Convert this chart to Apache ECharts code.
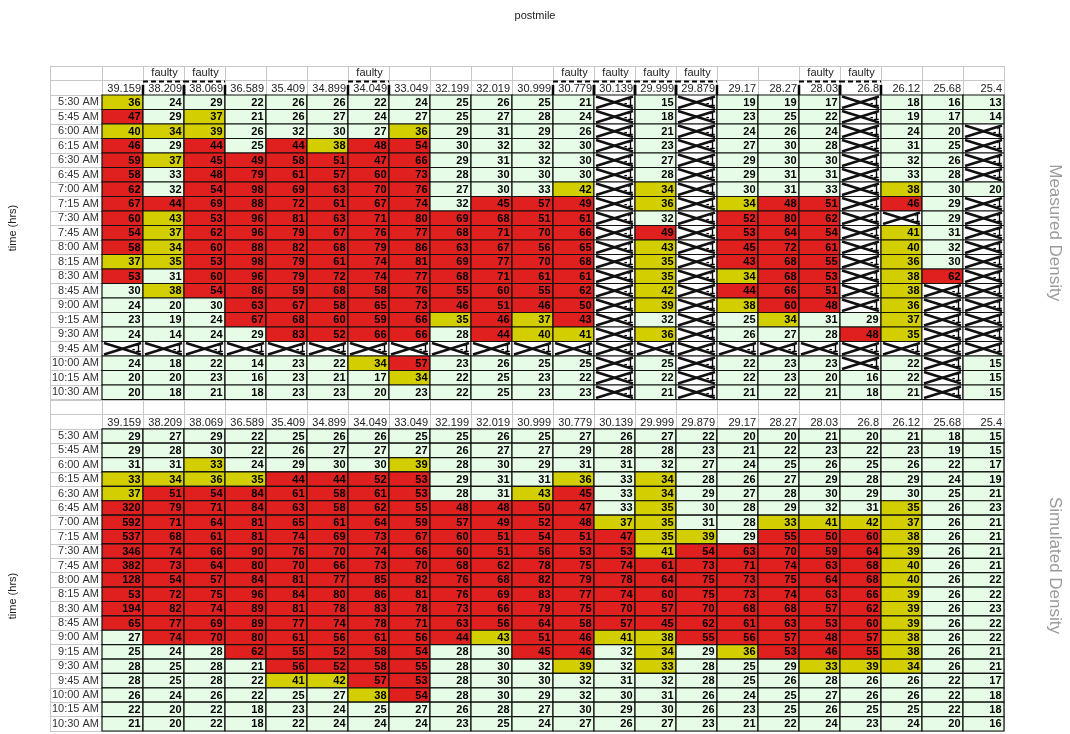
<!DOCTYPE html>
<html>
<head>
<meta charset="utf-8">
<script src="https://cdn.jsdelivr.net/npm/echarts@6/dist/echarts.min.js"></script>
<style>
  html, body { margin: 0; padding: 0; background: #fff; }
  #chart { width: 1070px; height: 734px; }
</style>
</head>
<body>
<div id="chart"></div>
<script>
const postmiles = ['39.159', '38.209', '38.069', '36.589', '35.409', '34.899', '34.049', '33.049', '32.199', '32.019', '30.999',
  '30.779', '30.139', '29.999', '29.879', '29.17', '28.27', '28.03', '26.8', '26.12', '25.68', '25.4'];
const faulty = ['38.209', '38.069', '34.049', '30.779', '30.139', '29.999', '29.879', '28.03', '26.8'];
const times = ['5:30 AM', '5:45 AM', '6:00 AM', '6:15 AM', '6:30 AM', '6:45 AM', '7:00 AM', '7:15 AM', '7:30 AM', '7:45 AM',
  '8:00 AM', '8:15 AM', '8:30 AM', '8:45 AM', '9:00 AM', '9:15 AM', '9:30 AM', '9:45 AM', '10:00 AM', '10:15 AM', '10:30 AM'];

// -1 = no data (crossed cell)
const measured = [
  [36, 24, 29, 22, 26, 26, 22, 24, 25, 26, 25, 21, -1, 15, -1, 19, 19, 17, -1, 18, 16, 13],
  [47, 29, 37, 21, 26, 27, 24, 27, 25, 27, 28, 24, -1, 18, -1, 23, 25, 22, -1, 19, 17, 14],
  [40, 34, 39, 26, 32, 30, 27, 36, 29, 31, 29, 26, -1, 21, -1, 24, 26, 24, -1, 24, 20, -1],
  [46, 29, 44, 25, 44, 38, 48, 54, 30, 32, 32, 30, -1, 23, -1, 27, 30, 28, -1, 31, 25, -1],
  [59, 37, 45, 49, 58, 51, 47, 66, 29, 31, 32, 30, -1, 27, -1, 29, 30, 30, -1, 32, 26, -1],
  [58, 33, 48, 79, 61, 57, 60, 73, 28, 30, 30, 30, -1, 28, -1, 29, 31, 31, -1, 33, 28, -1],
  [62, 32, 54, 98, 69, 63, 70, 76, 27, 30, 33, 42, -1, 34, -1, 30, 31, 33, -1, 38, 30, 20],
  [67, 44, 69, 88, 72, 61, 67, 74, 32, 45, 57, 49, -1, 36, -1, 34, 48, 51, -1, 46, 29, -1],
  [60, 43, 53, 96, 81, 63, 71, 80, 69, 68, 51, 61, -1, 32, -1, 52, 80, 62, -1, -1, 29, -1],
  [54, 37, 62, 96, 79, 67, 76, 77, 68, 71, 70, 66, -1, 49, -1, 53, 64, 54, -1, 41, 31, -1],
  [58, 34, 60, 88, 82, 68, 79, 86, 63, 67, 56, 65, -1, 43, -1, 45, 72, 61, -1, 40, 32, -1],
  [37, 35, 53, 98, 79, 61, 74, 81, 69, 77, 70, 68, -1, 35, -1, 43, 68, 55, -1, 36, 30, -1],
  [53, 31, 60, 96, 79, 72, 74, 77, 68, 71, 61, 61, -1, 35, -1, 34, 68, 53, -1, 38, 62, -1],
  [30, 38, 54, 86, 59, 68, 58, 76, 55, 60, 55, 62, -1, 42, -1, 44, 66, 51, -1, 38, -1, -1],
  [24, 20, 30, 63, 67, 58, 65, 73, 46, 51, 46, 50, -1, 39, -1, 38, 60, 48, -1, 36, -1, -1],
  [23, 19, 24, 67, 68, 60, 59, 66, 35, 46, 37, 43, -1, 32, -1, 25, 34, 31, 29, 37, -1, -1],
  [24, 14, 24, 29, 83, 52, 66, 66, 28, 44, 40, 41, -1, 36, -1, 26, 27, 28, 48, 35, -1, -1],
  [-1, -1, -1, -1, -1, -1, -1, -1, -1, -1, -1, -1, -1, -1, -1, -1, -1, -1, -1, -1, -1, -1],
  [24, 18, 22, 14, 23, 22, 34, 57, 23, 26, 25, 25, -1, 25, -1, 22, 23, 23, -1, 22, -1, 15],
  [20, 20, 23, 16, 23, 21, 17, 34, 22, 25, 23, 22, -1, 22, -1, 22, 23, 20, 16, 22, -1, 15],
  [20, 18, 21, 18, 23, 23, 20, 23, 22, 25, 23, 23, -1, 21, -1, 21, 22, 21, 18, 21, -1, 15]
];
// g = free flow, y = near capacity, r = congested
const measuredLevel = [
  'yggggggggg|gggggggggggg', 'rgyggggggg|gggggggggggg', 'yyyggggygg|gggggggggggg', 'rgrgryrrgg|gggggggggggg',
  'ryrrrrrrgg|gggggggggggg', 'rgrrrrrrgg|gggggggggggg', 'rgrrrrrrgg|gygygggggygg', 'rrrrrrrrgr|rrgygyrrgrgg',
  'ryrrrrrrrr|rrgggrrrgggg', 'ryrrrrrrrr|rrgrgrrrgygg', 'ryrrrrrrrr|rrgygrrrgygg', 'yyrrrrrrrr|rrgygrrrgygg',
  'rgrrrrrrrr|rrgygyrrgyrg', 'gyrrrrrrrr|rrgygrrrgygg', 'gggrrrrrrr|rrgygyrrgygg', 'gggrrrrryr|yrggggyggygg',
  'ggggrrrrgr|yygyggggrygg', 'gggggggggg|gggggggggggg', 'ggggggyrgg|gggggggggggg', 'gggggggygg|gggggggggggg',
  'gggggggggg|gggggggggggg'
];

const simulated = [
  [29, 27, 29, 22, 25, 26, 26, 25, 25, 26, 25, 27, 26, 27, 22, 20, 20, 21, 20, 21, 18, 15],
  [29, 28, 30, 22, 26, 27, 27, 27, 26, 27, 27, 29, 28, 28, 23, 21, 22, 23, 22, 23, 19, 15],
  [31, 31, 33, 24, 29, 30, 30, 39, 28, 30, 29, 31, 31, 32, 27, 24, 25, 26, 25, 26, 22, 17],
  [33, 34, 36, 35, 44, 44, 52, 53, 29, 31, 31, 36, 33, 34, 28, 26, 27, 29, 28, 29, 24, 19],
  [37, 51, 54, 84, 61, 58, 61, 53, 28, 31, 43, 45, 33, 34, 29, 27, 28, 30, 29, 30, 25, 21],
  [320, 79, 71, 84, 63, 58, 62, 55, 48, 48, 50, 47, 33, 35, 30, 28, 29, 32, 31, 35, 26, 23],
  [592, 71, 64, 81, 65, 61, 64, 59, 57, 49, 52, 48, 37, 35, 31, 28, 33, 41, 42, 37, 26, 21],
  [537, 68, 61, 81, 74, 69, 73, 67, 60, 51, 54, 51, 47, 35, 39, 29, 55, 50, 60, 38, 26, 21],
  [346, 74, 66, 90, 76, 70, 74, 66, 60, 51, 56, 53, 53, 41, 54, 63, 70, 59, 64, 39, 26, 21],
  [382, 73, 64, 80, 70, 66, 73, 70, 68, 62, 78, 75, 74, 61, 73, 71, 74, 63, 68, 40, 26, 21],
  [128, 54, 57, 84, 81, 77, 85, 82, 76, 68, 82, 79, 78, 64, 75, 73, 75, 64, 68, 40, 26, 22],
  [53, 72, 75, 96, 84, 80, 86, 81, 76, 69, 83, 77, 74, 60, 75, 73, 74, 63, 66, 39, 26, 22],
  [194, 82, 74, 89, 81, 78, 83, 78, 73, 66, 79, 75, 70, 57, 70, 68, 68, 57, 62, 39, 26, 23],
  [65, 77, 69, 89, 77, 74, 78, 71, 63, 56, 64, 58, 57, 45, 62, 61, 63, 53, 60, 39, 26, 22],
  [27, 74, 70, 80, 61, 56, 61, 56, 44, 43, 51, 46, 41, 38, 55, 56, 57, 48, 57, 38, 26, 22],
  [25, 24, 28, 62, 55, 52, 58, 54, 28, 30, 45, 46, 32, 34, 29, 36, 53, 46, 55, 38, 26, 21],
  [28, 25, 28, 21, 56, 52, 58, 55, 28, 30, 32, 39, 32, 33, 28, 25, 29, 33, 39, 34, 26, 21],
  [28, 25, 28, 22, 41, 42, 57, 53, 28, 30, 30, 32, 31, 32, 28, 25, 26, 28, 26, 26, 22, 17],
  [26, 24, 26, 22, 25, 27, 38, 54, 28, 30, 29, 32, 30, 31, 26, 24, 25, 27, 26, 26, 22, 18],
  [22, 20, 22, 18, 23, 24, 25, 27, 26, 28, 27, 30, 29, 30, 26, 23, 25, 26, 25, 25, 22, 18],
  [21, 20, 22, 18, 22, 24, 24, 24, 23, 25, 24, 27, 26, 27, 23, 21, 22, 24, 23, 24, 20, 16]
];
const simulatedLevel = [
  'gggggggggg|gggggggggggg', 'gggggggggg|gggggggggggg', 'ggyggggygg|gggggggggggg', 'yyyyrrrrgg|gygygggggggg',
  'yrrrrrrrgg|yrgygggggggg', 'rrrrrrrrrr|rrgygggggygg', 'rrrrrrrrrr|rryyggyyyygg', 'rrrrrrrrrr|rrryygrrrygg',
  'rrrrrrrrrr|rrryrrrrrygg', 'rrrrrrrrrr|rrrrrrrrrygg', 'rrrrrrrrrr|rrrrrrrrrygg', 'rrrrrrrrrr|rrrrrrrrrygg',
  'rrrrrrrrrr|rrrrrrrrrygg', 'rrrrrrrrrr|rrrrrrrrrygg', 'grrrrrrrry|rryyrrrrrygg', 'gggrrrrrgg|rrgygyrrrygg',
  'ggggrrrrgg|gygygggyyygg', 'ggggyyrrgg|gggggggggggg', 'ggggggyrgg|gggggggggggg', 'gggggggggg|gggggggggggg',
  'gggggggggg|gggggggggggg'
];

const FONT = '"Liberation Sans", Arial, sans-serif';
const GRAY = '#c8c8c8';
const fills = ['#e6fce6', '#d2ce00', '#e01f1f'];
const levelIndex = { g: 0, y: 1, r: 2 };

function cells(values, levels) {
  const out = [];
  values.forEach((row, r) => {
    const lv = levels[r].replace('|', '');
    row.forEach((v, c) => out.push([c, r + 2, v, levelIndex[lv[c]]]));
  });
  return out;
}

function cellBox(api) {
  const c = api.coord([api.value(0), api.value(1)]);
  const s = api.size([1, 1]);
  return { x: c[0] - s[0] / 2, y: c[1] - s[1] / 2, width: s[0], height: s[1], cy: c[1] };
}

function renderCell(params, api) {
  const b = cellBox(api);
  const v = api.value(2);
  const shape = { x: b.x, y: b.y, width: b.width, height: b.height };
  if (v < 0) {
    return {
      type: 'group',
      children: [
        { type: 'rect', shape, style: { fill: '#fff', stroke: '#111', lineWidth: 1 } },
        { type: 'text', style: { text: '-1', x: b.x + b.width - 2, y: b.cy + 0.5, align: 'right', verticalAlign: 'middle', font: 'bold 10px ' + FONT, fill: '#000' } },
        { type: 'line', shape: { x1: b.x + 2, y1: b.y + 1.5, x2: b.x + b.width - 2, y2: b.y + b.height - 1.5 }, style: { stroke: '#111', lineWidth: 2.6 } },
        { type: 'line', shape: { x1: b.x + 2, y1: b.y + b.height - 1.5, x2: b.x + b.width - 2, y2: b.y + 1.5 }, style: { stroke: '#111', lineWidth: 2.6 } }
      ]
    };
  }
  return {
    type: 'group',
    children: [
      { type: 'rect', shape, style: { fill: fills[api.value(3)], stroke: '#111', lineWidth: 1.2 } },
      { type: 'text', style: { text: String(v), x: b.x + b.width - 2.5, y: b.cy + 0.5, align: 'right', verticalAlign: 'middle', font: 'bold 11px ' + FONT, fill: '#000' } }
    ]
  };
}

function renderHeader(params, api) {
  const b = cellBox(api);
  const name = postmiles[api.value(0)];
  const children = [
    { type: 'text', style: { text: name, x: b.x + b.width - 2, y: b.cy + 1, align: 'right', verticalAlign: 'middle', font: '11px ' + FONT, fill: '#222' } }
  ];
  if (params.seriesIndex === 1 && faulty.includes(name)) {
    const x1 = b.x + b.width;
    const yTop = b.y + 1;
    const yBar = b.y + b.height * 0.3;
    const yBot = b.y + b.height;
    children.push(
      { type: 'line', shape: { x1: b.x, y1: yTop, x2: x1, y2: yTop }, style: { stroke: '#000', lineWidth: 2, lineDash: [5, 3] } },
      { type: 'line', shape: { x1: b.x, y1: yBar, x2: b.x, y2: yBot }, style: { stroke: '#000', lineWidth: 2.5 } },
      { type: 'line', shape: { x1: x1, y1: yBar, x2: x1, y2: yBot }, style: { stroke: '#000', lineWidth: 2.5 } }
    );
  }
  return { type: 'group', children };
}

function renderFaulty(params, api) {
  const b = cellBox(api);
  return { type: 'text', style: { text: 'faulty', x: b.x + b.width / 2 + 1, y: b.cy, align: 'center', verticalAlign: 'middle', font: '11px ' + FONT, fill: '#222' } };
}

const headerData = postmiles.map((_, i) => [i, 1]);
const faultyData = postmiles.map((p, i) => [i, 0]).filter(d => faulty.includes(postmiles[d[0]]));

const topRows = ['faulty', 'postmile'].concat(times);
const bottomRows = ['blank', 'postmile'].concat(times);

function mainY(gridIndex, rows) {
  return {
    gridIndex, type: 'category', inverse: true, data: rows, position: 'left', offset: 0,
    axisLine: { show: false },
    axisTick: { show: true, interval: 0, length: 52, lineStyle: { color: GRAY } },
    axisLabel: { interval: 0, margin: 3, fontSize: 11, color: '#333', fontFamily: FONT, formatter: (v, i) => (i < 2 ? '' : v) },
    splitLine: { show: true, interval: 0, lineStyle: { color: GRAY } }
  };
}
function edgeY(gridIndex, rows) {
  return {
    gridIndex, type: 'category', inverse: true, data: rows, position: 'left', offset: 52,
    axisLine: { show: true, lineStyle: { color: GRAY } }, axisTick: { show: false }, axisLabel: { show: false }
  };
}
function nameY(gridIndex, rows, name) {
  return {
    gridIndex, type: 'category', inverse: true, data: rows, position: 'right',
    axisLine: { show: false }, axisTick: { show: false }, axisLabel: { show: false },
    name, nameLocation: 'middle', nameRotate: -90, nameGap: 42,
    nameTextStyle: { fontSize: 17, color: '#9a9a9a', fontFamily: FONT }
  };
}
function xCat(gridIndex) {
  return {
    gridIndex, type: 'category', data: postmiles,
    axisLine: { show: false }, axisTick: { show: false }, axisLabel: { show: false },
    splitLine: { show: true, interval: 0, lineStyle: { color: GRAY } }
  };
}

const chart = echarts.init(document.getElementById('chart'), null, { renderer: 'canvas' });
chart.setOption({
  backgroundColor: '#fff',
  animation: false,
  title: { text: 'postmile', left: 'center', top: 5, textStyle: { fontSize: 11, fontWeight: 'normal', color: '#222', fontFamily: FONT } },
  grid: [
    { left: 102, right: 66, top: 66, height: 333.5, outerBoundsMode: 'none', containLabel: false },
    { left: 102, right: 66, top: 400, height: 331, outerBoundsMode: 'none', containLabel: false }
  ],
  xAxis: [xCat(0), xCat(1)],
  yAxis: [
    mainY(0, topRows), edgeY(0, topRows), nameY(0, topRows, 'Measured Density'),
    mainY(1, bottomRows), edgeY(1, bottomRows), nameY(1, bottomRows, 'Simulated Density')
  ],
  graphic: [
    { type: 'text', x: 13, y: 228, rotation: Math.PI / 2, style: { text: 'time (hrs)', align: 'center', verticalAlign: 'middle', font: '11px ' + FONT, fill: '#222' } },
    { type: 'text', x: 13, y: 596, rotation: Math.PI / 2, style: { text: 'time (hrs)', align: 'center', verticalAlign: 'middle', font: '11px ' + FONT, fill: '#222' } }
  ],
  series: [
    { type: 'custom', xAxisIndex: 0, yAxisIndex: 0, data: faultyData, renderItem: renderFaulty },
    { type: 'custom', xAxisIndex: 0, yAxisIndex: 0, data: headerData, renderItem: renderHeader },
    { type: 'custom', xAxisIndex: 0, yAxisIndex: 0, data: cells(measured, measuredLevel), renderItem: renderCell },
    { type: 'custom', xAxisIndex: 1, yAxisIndex: 3, data: headerData, renderItem: renderHeader },
    { type: 'custom', xAxisIndex: 1, yAxisIndex: 3, data: cells(simulated, simulatedLevel), renderItem: renderCell }
  ]
});
</script>
</body>
</html>
